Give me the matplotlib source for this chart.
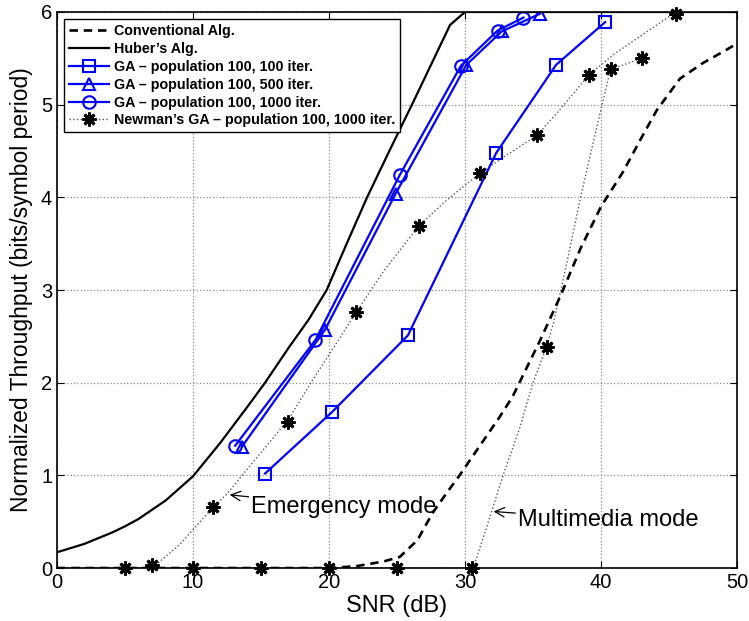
import matplotlib
matplotlib.use('Agg')
import matplotlib.pyplot as plt
from matplotlib.lines import Line2D

plt.rcParams['font.family'] = ['Liberation Sans', 'DejaVu Sans']

# Conventional algorithm (dashed)
conv_snr = [0, 20, 22, 24, 25.2, 26.5, 27.6, 28.6, 29.6, 31, 32.5, 33.5, 34, 35.5, 37, 38.5, 40,
            41.6, 43, 44.1, 45.8, 47.5, 49.2, 50]
conv_thr = [0, 0, 0.02, 0.07, 0.12, 0.3, 0.59, 0.8, 1.0, 1.3, 1.62, 1.85, 2.0, 2.45, 2.93, 3.45, 3.9,
            4.27, 4.65, 4.94, 5.28, 5.45, 5.59, 5.66]

# Huber's algorithm (solid)
huber_snr = [0, 2, 4, 5, 6, 8, 10, 12, 14, 15.3, 17, 18.5, 19.83, 21.3, 22.8, 24.5, 26.1, 27.5,
             28.9, 30, 50]
huber_thr = [0.17, 0.26, 0.38, 0.45, 0.53, 0.73, 0.99, 1.35, 1.74, 2.0, 2.37, 2.68, 3.0, 3.5, 4.0,
             4.52, 5.0, 5.43, 5.86, 6.0, 6.0]

# GA, population 100
ga100_snr = [15.3, 20.2, 25.8, 32.3, 36.7, 40.3]
ga100_thr = [1.02, 1.68, 2.51, 4.48, 5.43, 5.89]
ga500_snr = [13.6, 19.7, 24.9, 30.1, 32.7, 35.5]
ga500_thr = [1.31, 2.57, 4.04, 5.43, 5.79, 5.98]
ga1000_snr = [13.1, 19.0, 25.2, 29.7, 32.4, 34.3]
ga1000_thr = [1.32, 2.46, 4.24, 5.42, 5.80, 5.94]

# Newman's GA: dotted curves (emergency / multimedia mode) and star markers
emerg_snr = [0, 7, 9, 11.5, 12.5, 14, 17, 18.8, 20, 22, 24, 26.6, 28.65, 31.1, 33, 35.3, 37, 39.1,
             41, 43, 45.5, 50]
emerg_thr = [0, 0, 0.25, 0.66, 0.8, 1.07, 1.6, 2.03, 2.3, 2.76, 3.2, 3.69, 3.97, 4.26, 4.45, 4.67,
             4.95, 5.32, 5.55, 5.75, 6.0, 6.0]
multi_snr = [0, 30.6, 31.5, 32.8, 34, 35, 36, 36.5, 37.5, 38.45, 39.2, 40, 40.7, 43]
multi_thr = [0, 0, 0.4, 1.0, 1.5, 2.0, 2.39, 2.64, 3.3, 3.97, 4.45, 4.95, 5.38, 5.5]
star_snr = [5, 7, 10, 11.5, 15, 17, 20, 22, 25, 26.6, 30.5, 31.1, 35.3, 36.0, 39.1, 40.7, 43.0, 45.5]
star_thr = [0, 0.03, 0, 0.66, 0, 1.58, 0, 2.76, 0, 3.69, 0, 4.26, 4.67, 2.39, 5.32, 5.38, 5.50, 5.98]

fig = plt.figure(figsize=(7.49, 6.21), dpi=100)
ax = fig.add_axes([0.0761, 0.0853, 0.9079, 0.8954])

blue = '#0000ff'
ax.plot(emerg_snr, emerg_thr, linestyle=':', color='0.35', lw=1.0)
ax.plot(multi_snr, multi_thr, linestyle=':', color='0.35', lw=1.0)
ax.plot(conv_snr, conv_thr, color='k', lw=1.9, dashes=(3.2, 2.2))
ax.plot(huber_snr, huber_thr, color='k', lw=1.6)
mk = dict(color=blue, lw=1.6, markersize=9, markerfacecolor='none', markeredgewidth=1.5)
ax.plot(ga100_snr, ga100_thr, marker='s', **mk)
ax.plot(ga500_snr, ga500_thr, marker='^', **mk)
ax.plot(ga1000_snr, ga1000_thr, marker='o', **mk)
star = (8, 2, 0)
ax.plot(star_snr, star_thr, linestyle='none', marker=star, color='k', markersize=10,
        markeredgewidth=2.0, clip_on=False, zorder=5)

handles = [
    Line2D([], [], color='k', lw=1.9, dashes=(3.2, 2.2)),
    Line2D([], [], color='k', lw=1.6),
    Line2D([], [], marker='s', **mk),
    Line2D([], [], marker='^', **mk),
    Line2D([], [], marker='o', **mk),
    Line2D([], [], linestyle=':', color='0.35', lw=1.0, marker=star, markeredgecolor='k',
           markersize=10, markeredgewidth=2.0),
]
labels = ['Conventional Alg.', "Huber\u2019s Alg.", 'GA \u2013 population 100, 100 iter.',
          'GA \u2013 population 100, 500 iter.', 'GA \u2013 population 100, 1000 iter.',
          "Newman\u2019s GA \u2013 population 100, 1000 iter."]
leg = ax.legend(handles, labels, loc='upper left', prop={'weight': 'bold', 'size': 10.3},
                fancybox=False, edgecolor='k', framealpha=1, borderaxespad=0.5,
                handlelength=2.8, handletextpad=0.35, borderpad=0.35, labelspacing=0.27)
leg.get_frame().set_linewidth(1.0)

ax.annotate('Emergency mode', xy=(12.7, 0.79), xytext=(14.3, 0.66), fontsize=17, va='center',
            arrowprops=dict(arrowstyle='->', color='k', lw=0.9, shrinkA=0, shrinkB=0))
ax.annotate('Multimedia mode', xy=(32.1, 0.61), xytext=(33.9, 0.52), fontsize=17, va='center',
            arrowprops=dict(arrowstyle='->', color='k', lw=0.9, shrinkA=0, shrinkB=0))

ax.set_xlim(0, 50)
ax.set_ylim(0, 6)
ax.set_xticks(range(0, 51, 10))
ax.set_yticks(range(0, 7))
ax.tick_params(direction='in', top=True, right=True, length=5, labelsize=14.5, width=0.8)
ax.grid(True, linestyle=':', color='0.55', lw=0.9)
for spine in ['top', 'bottom', 'left', 'right']:
    ax.spines[spine].set_linewidth(1.2)
ax.set_xlabel('SNR (dB)', fontsize=17, labelpad=2)
ax.set_ylabel('Normalized Throughput (bits/symbol period)', fontsize=16.5, labelpad=6)

plt.savefig('out.png', dpi=100)
